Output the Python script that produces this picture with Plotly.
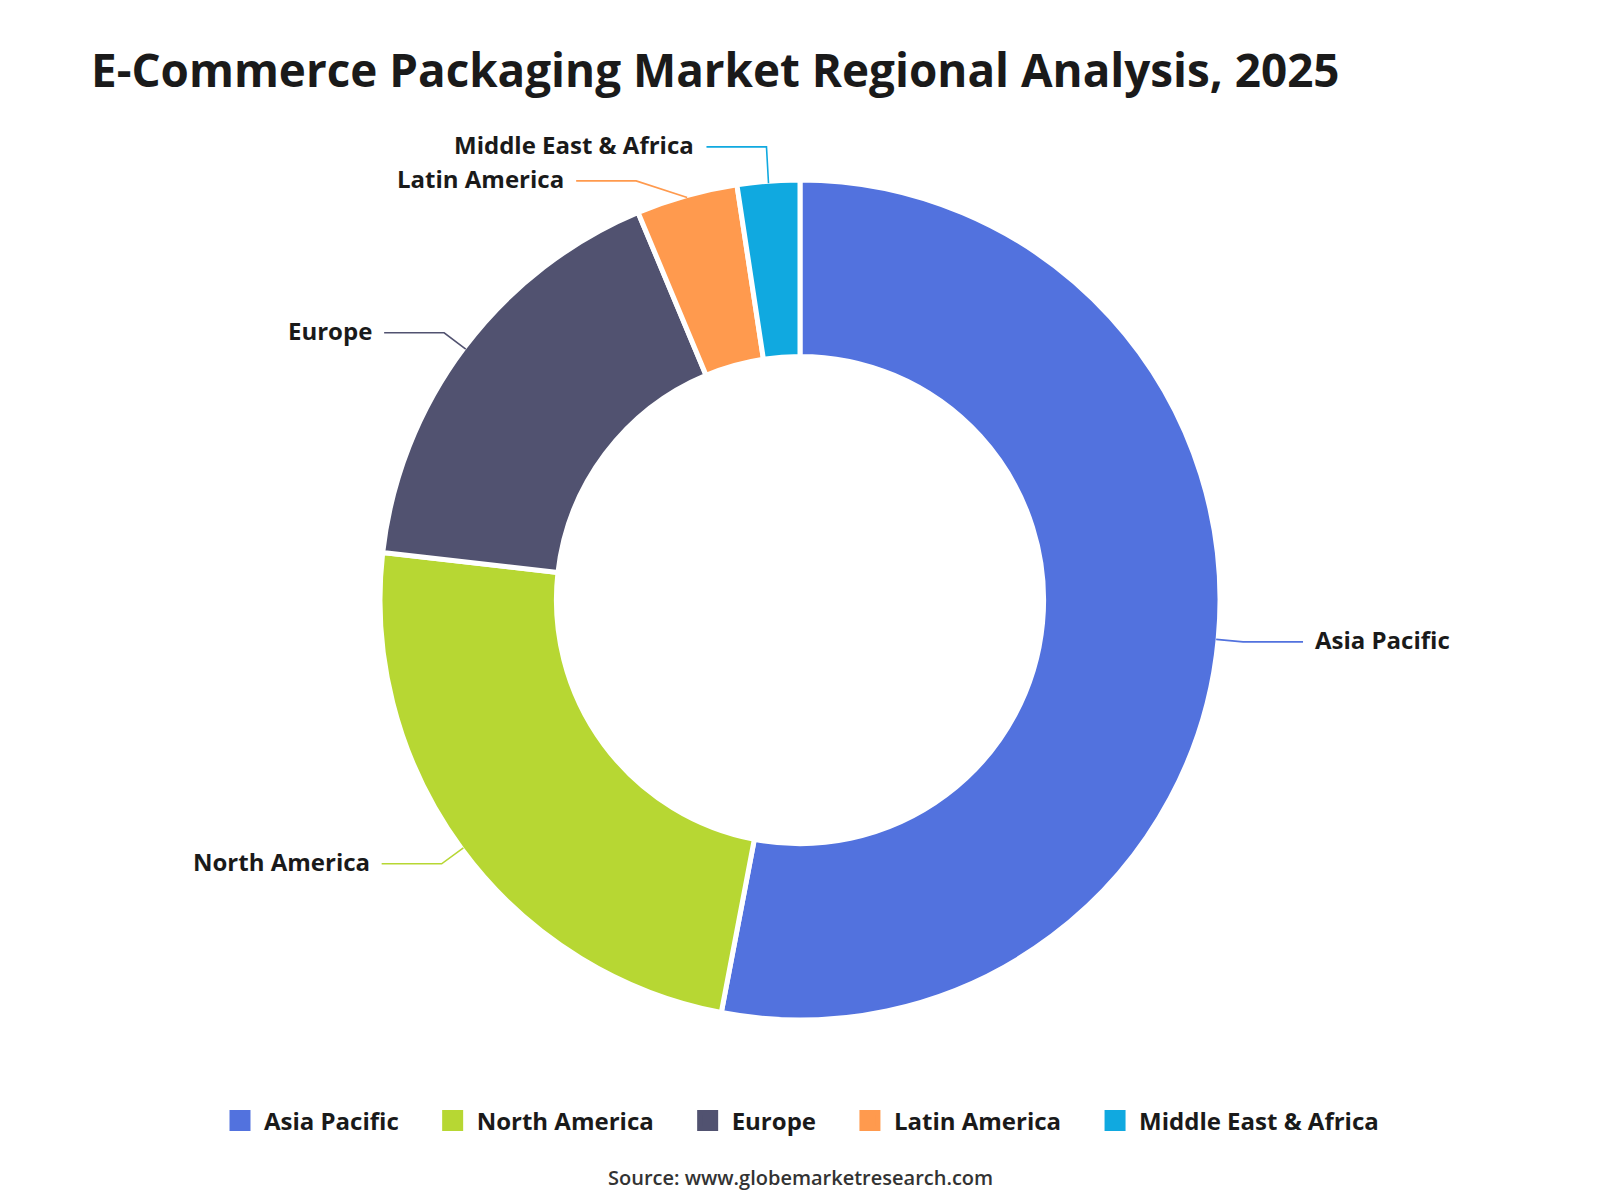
import math
import plotly.graph_objects as go

# ---- data ----
regions = ["Asia Pacific", "North America", "Europe", "Latin America", "Middle East & Africa"]
shares = [53.0, 23.8, 16.9, 3.9, 2.4]
colors = ["#5272DE", "#B7D733", "#515270", "#FF9A4E", "#10A9E0"]

title_text = "E-Commerce Packaging Market Regional Analysis, 2025"
source_text = "Source: www.globemarketresearch.com"

# ---- geometry ----
W, H = 1600, 1200
CX, CY = 800, 600
R = 420
HOLE = 0.58
FONT = "Open Sans"
TXT = "#1a1a1a"


def px(x):
    return x / W


def py(y):
    return 1 - y / H


fig = go.Figure()
fig.add_trace(go.Pie(
    labels=regions,
    values=shares,
    sort=False,
    direction="clockwise",
    rotation=0,
    hole=HOLE,
    marker=dict(colors=colors, line=dict(color="white", width=5)),
    textinfo="none",
    hovertemplate="%{label}: %{value}%<extra></extra>",
    domain=dict(x=[px(CX - R), px(CX + R)], y=[py(CY + R), py(CY - R)]),
    showlegend=False,
))

# legend entries (larger square swatches)
for i, (name, c) in enumerate(zip(regions, colors)):
    pad = "" if i == len(regions) - 1 else "\u00a0" * 4
    fig.add_trace(go.Scatter(
        x=[None], y=[None], mode="markers", name=name + pad,
        marker=dict(symbol="square", size=16, color=c, line=dict(color=c, width=5)),
        hoverinfo="skip", showlegend=True,
    ))

# ---- leader lines and labels (computed from the data) ----
total = sum(shares)
start = 0.0
items = []
for name, v, c in zip(regions, shares, colors):
    ang = start + v / total * 360 / 2
    start += v / total * 360
    t = math.radians(ang)
    s, co = math.sin(t), math.cos(t)
    p0 = (CX + (R - 2) * s, CY - (R - 2) * co)
    p1 = [CX + (R + 25) * s, CY - (R + 25) * co]
    items.append(dict(name=name, color=c, s=s, p0=p0, p1=p1, y0=p1[1]))

GAP = 34
for side in (-1, 1):
    grp = sorted([it for it in items if (it["s"] < 0) == (side < 0)], key=lambda d: d["p1"][1])
    for _ in range(60):
        for a, b in zip(grp, grp[1:]):
            d = b["p1"][1] - a["p1"][1]
            if d < GAP:
                push = (GAP - d) / 2
                a["p1"][1] -= push
                b["p1"][1] += push
    for it in grp:
        if abs(it["p1"][1] - it["y0"]) > 0.5:
            rr = R + 30
            dy = it["p1"][1] - CY
            dx = math.sqrt(max(rr * rr - dy * dy, 0))
            dx = max(dx, abs(it["p1"][0] - CX))
            it["p1"][0] = CX + side * dx

shapes = []
annotations = []
for it in items:
    sgn = 1 if it["s"] >= 0 else -1
    p0, p1 = it["p0"], it["p1"]
    p2 = (p1[0] + sgn * 60, p1[1])
    path = "M {} {} L {} {} L {} {}".format(px(p0[0]), py(p0[1]), px(p1[0]), py(p1[1]), px(p2[0]), py(p2[1]))
    shapes.append(dict(type="path", xref="paper", yref="paper", path=path,
                       line=dict(color=it["color"], width=1.6), layer="above"))
    annotations.append(dict(
        x=px(p2[0] + sgn * 10), y=py(p2[1] - 2), xref="paper", yref="paper",
        text=it["name"], showarrow=False,
        xanchor="left" if sgn > 0 else "right", yanchor="middle",
        font=dict(family=FONT, size=24, color=TXT, weight="bold"),
    ))

annotations.append(dict(
    x=0.5, y=py(1177), xref="paper", yref="paper", text=source_text, showarrow=False,
    xanchor="center", yanchor="middle",
    font=dict(family=FONT, size=20, color="#333333", weight=600),
))

fig.update_layout(
    width=W, height=H,
    margin=dict(l=0, r=0, t=0, b=0),
    paper_bgcolor="white", plot_bgcolor="white",
    xaxis=dict(visible=False), yaxis=dict(visible=False),
    title=dict(text=title_text, x=px(91), xanchor="left", xref="container",
               y=1 - 71 / H, yanchor="middle", yref="container",
               font=dict(family=FONT, size=45.8, color=TXT, weight="bold")),
    legend=dict(orientation="h", x=0.5, xanchor="center", y=py(1121), yanchor="middle",
                font=dict(family=FONT, size=24, color=TXT, weight="bold"),
                itemwidth=38, itemclick=False, itemdoubleclick=False),
    shapes=shapes,
    annotations=annotations,
)

fig.write_html("out.html")
